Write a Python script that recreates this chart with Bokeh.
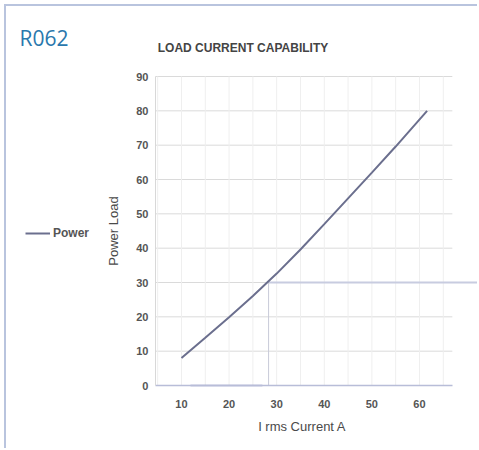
from bokeh.plotting import figure
from bokeh.embed import file_html
from bokeh.resources import INLINE
from bokeh.models import Label, Legend, LegendItem, FixedTicker, Range1d, ColumnDataSource

# ---- data ----
current = [10, 15, 20, 25, 30, 35, 40, 45, 50, 55, 61.6]
power = [8, 13.9, 19.9, 26.1, 32.6, 39.6, 47, 54.5, 62, 69.6, 80]
x_ticks = [10, 20, 30, 40, 50, 60]
x_minor = [5, 10, 15, 20, 25, 30, 35, 40, 45, 50, 55, 60, 65]
y_ticks = [0, 10, 20, 30, 40, 50, 60, 70, 80, 90]
rated_current = 28.3
rated_power = 30
base_segment = [11.9, 27.0]
series_name = "Power"
chart_title = "LOAD CURRENT CAPABILITY"
badge = "R062"

# ---- layout constants ----
PLOT_X = (4.54, 66.9)     # extent of the plotting area (data units)
PLOT_Y = (0, 90)
VIEW_X = (-26.76, 72.61)  # whole canvas
VIEW_Y = (-18.93, 110.39)
LINE_COLOR = "#6b6f8e"
GRID = "#dadada"
TEXT = "#555555"

p = figure(width=473, height=444, output_backend="svg", toolbar_location=None,
           x_range=Range1d(*VIEW_X), y_range=Range1d(*VIEW_Y), min_border=0)
p.stylesheets = [":host { margin: 4px 0 0 4px; border-top: 2px solid #b9c4de; border-left: 2px solid #b9c4de; }"]
p.outline_line_color = None
p.background_fill_color = "white"
p.border_fill_color = "white"
p.grid.visible = False

# axes drawn at the edges of the plotting area
p.xaxis.fixed_location = PLOT_Y[0]
p.yaxis.fixed_location = PLOT_X[0]
p.xaxis.bounds = PLOT_X
p.yaxis.bounds = PLOT_Y
p.xaxis.ticker = FixedTicker(ticks=x_ticks)
p.yaxis.ticker = FixedTicker(ticks=y_ticks)
for ax in (p.xaxis[0], p.yaxis[0]):
    ax.major_label_text_font_size = "11px"
    ax.major_label_text_font_style = "bold"
    ax.major_label_text_color = TEXT
    ax.axis_label_text_font_size = "13px"
    ax.axis_label_text_font_style = "normal"
    ax.axis_label_text_color = "#4a4a4a"
    ax.major_tick_line_color = None
    ax.minor_tick_line_color = None
    ax.major_tick_out = 0
    ax.minor_tick_out = 0
p.xaxis.axis_label = "I rms  Current A"
p.yaxis.axis_label = "Power Load"
p.xaxis.axis_line_color = "#b8bdd8"
p.xaxis.axis_line_width = 1.5
p.yaxis.axis_line_color = "#d8d8d8"
p.xaxis.major_label_standoff = 14
p.yaxis.major_label_standoff = 7
p.xaxis.axis_label_standoff = 8
p.yaxis.axis_label_standoff = 12

# grid lines limited to the plotting area
hy = [t for t in y_ticks if t > PLOT_Y[0]]
p.segment(x0=[PLOT_X[0]] * len(hy), y0=hy, x1=[PLOT_X[1]] * len(hy), y1=hy,
          line_color=GRID, line_width=1)
p.segment(x0=x_minor, y0=[PLOT_Y[0]] * len(x_minor), x1=x_minor, y1=[PLOT_Y[1]] * len(x_minor),
          line_color="#efefef", line_width=1)

# rated point marker lines
p.segment(x0=[rated_current], y0=[rated_power], x1=[VIEW_X[1]], y1=[rated_power],
          line_color="#c8cce0", line_width=2)
p.segment(x0=[rated_current], y0=[rated_power], x1=[rated_current], y1=[PLOT_Y[0]],
          line_color="#c8cad8", line_width=1)
p.segment(x0=[base_segment[0]], y0=[PLOT_Y[0]], x1=[base_segment[1]], y1=[PLOT_Y[0]],
          line_color="#8f96c4", line_width=1.5)

src = ColumnDataSource(dict(x=current, y=power))
r = p.line("x", "y", source=src, line_color=LINE_COLOR, line_width=2)

legend = Legend(items=[LegendItem(label=series_name, renderers=[r])], location=(19, 210),
                border_line_color=None, background_fill_alpha=0, padding=0, margin=0,
                label_text_font_size="12px", label_text_font_style="bold",
                label_text_color=TEXT, glyph_width=25, glyph_height=14, label_standoff=3,
                label_height=14)
p.add_layout(legend, "center")

p.add_layout(Label(x=13, y=413, x_units="screen", y_units="screen", text=badge,
                   text_font_size="21px", text_color="#2a78ad", text_font="Open Sans",
                   text_baseline="alphabetic"))
p.add_layout(Label(x=236.5, y=403, x_units="screen", y_units="screen", text=chart_title,
                   text_font_size="12px", text_font_style="bold", text_color="#444444",
                   text_align="center", text_baseline="alphabetic"))

open("out.html", "w").write(file_html(p, INLINE))
